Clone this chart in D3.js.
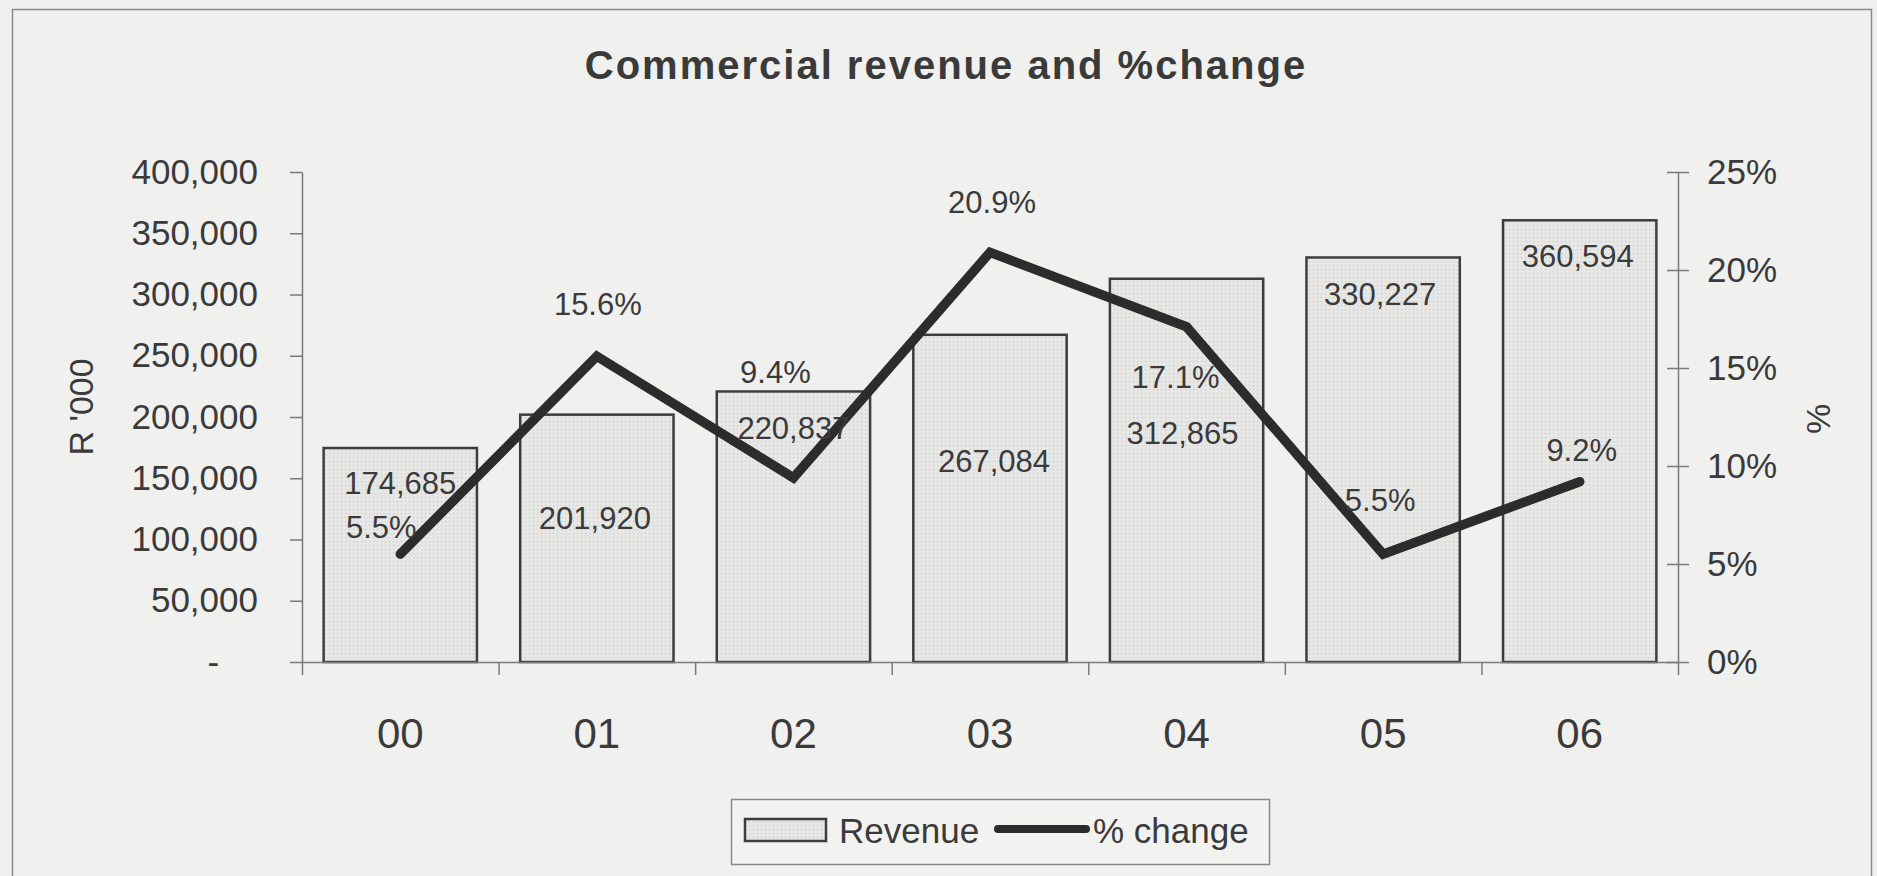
<!DOCTYPE html>
<html>
<head>
<meta charset="utf-8">
<script src="https://cdn.jsdelivr.net/npm/d3@7"></script>
<style>
  html, body { margin: 0; padding: 0; background: #f0f0ef; }
  svg { display: block; }
  text { font-family: "Liberation Sans", Arial, sans-serif; fill: #3a3a3a; }
</style>
</head>
<body>
<div id="chart"></div>
<script>
// --- data ---
const categories = ["00", "01", "02", "03", "04", "05", "06"];
const revenue = [174685, 201920, 220837, 267084, 312865, 330227, 360594];
const pctChange = [5.5, 15.6, 9.4, 20.9, 17.1, 5.5, 9.2];
const revenueTicks = [0, 50000, 100000, 150000, 200000, 250000, 300000, 350000, 400000];
const pctTicks = [0, 5, 10, 15, 20, 25];

// label placement (px, relative to bar top / line point)
const revLabelDy = [35, 103, 36, 126, 154, 36, 36];
const revLabelDx = [0, -2, 0, 4, -4, -3, -2];
const pctLabelDx = [-19, 1, -18, 2, -11, -3, 2];
const pctLabelDy = [-27, -52, -106, -51, 50, -54, -32];

const W = 1877, H = 876;
const plot = { left: 302, right: 1678, top: 172, bottom: 662 };

const svg = d3.select("#chart").append("svg")
    .attr("width", W)
    .attr("height", H);

// dotted fill for the bars
const defs = svg.append("defs");
const pat = defs.append("pattern")
    .attr("id", "dots")
    .attr("width", 4).attr("height", 4)
    .attr("patternUnits", "userSpaceOnUse");
pat.append("rect").attr("width", 4).attr("height", 4).attr("fill", "#e7e7e6");
pat.append("rect").attr("x", 1).attr("y", 1).attr("width", 1.2).attr("height", 1.2).attr("fill", "#c9c9c9");

// outer frame
svg.append("rect")
    .attr("x", 12.5).attr("y", 9.5)
    .attr("width", 1859).attr("height", 900)
    .attr("fill", "none")
    .attr("stroke", "#8a8a8a")
    .attr("stroke-width", 1.5);

// title
svg.append("text")
    .attr("x", 946).attr("y", 79)
    .attr("text-anchor", "middle")
    .style("font-size", "40px")
    .style("font-weight", "bold")
    .style("letter-spacing", "2px")
    .text("Commercial revenue and %change");

// --- scales ---
const x = d3.scaleBand()
    .domain(categories)
    .range([plot.left, plot.right])
    .padding(0);
const xEdge = d3.scaleLinear().domain([0, categories.length]).range([plot.left, plot.right]);
const y = d3.scaleLinear().domain([0, 400000]).range([plot.bottom, plot.top]);
const y2 = d3.scaleLinear().domain([0, 25]).range([plot.bottom, plot.top]);

const barW = x.bandwidth() * 0.78;

// --- bars ---
svg.append("g").selectAll("rect")
    .data(revenue)
    .join("rect")
    .attr("x", (d, i) => x(categories[i]) + (x.bandwidth() - barW) / 2)
    .attr("y", d => y(d))
    .attr("width", barW)
    .attr("height", d => y(0) - y(d))
    .attr("fill", "url(#dots)")
    .attr("stroke", "#3d3d3d")
    .attr("stroke-width", 2.5);

// --- axes ---
const axisColor = "#7a7a7a";
const styleAxis = g => {
    g.select(".domain").attr("stroke", axisColor).attr("stroke-width", 1.5);
    g.selectAll(".tick line").attr("stroke", axisColor).attr("stroke-width", 1.5);
    g.selectAll("text").style("font-family", "Liberation Sans, Arial, sans-serif").attr("fill", "#3a3a3a");
};

const fmtComma = d3.format(",");
svg.append("g")
    .attr("transform", `translate(${plot.left},0)`)
    .call(d3.axisLeft(y)
        .tickValues(revenueTicks)
        .tickSize(12)
        .tickSizeOuter(0)
        .tickPadding(32)
        .tickFormat(d => d === 0 ? "-\u00a0\u00a0\u00a0\u00a0" : fmtComma(d)))
    .call(styleAxis)
    .selectAll("text").style("font-size", "35px");

const rightAxis = svg.append("g")
    .attr("transform", `translate(${plot.right},0)`)
    .call(d3.axisRight(y2)
        .tickValues(pctTicks)
        .tickSize(11)
        .tickSizeOuter(0)
        .tickPadding(18)
        .tickFormat(d => d + "%"))
    .call(styleAxis);
rightAxis.selectAll("text").style("font-size", "35px").attr("text-anchor", "start");
rightAxis.selectAll(".tick line").attr("x1", -11);

// x axis: boundary tick marks
svg.append("g")
    .attr("transform", `translate(0,${plot.bottom})`)
    .call(d3.axisBottom(xEdge)
        .tickValues(d3.range(categories.length + 1))
        .tickSize(13)
        .tickSizeOuter(0)
        .tickFormat(""))
    .call(styleAxis);

// x axis: category labels
svg.append("g")
    .attr("transform", `translate(0,${plot.bottom})`)
    .call(d3.axisBottom(x).tickSize(0).tickPadding(56))
    .call(g => g.select(".domain").remove())
    .selectAll("text")
    .style("font-size", "42px")
    .attr("fill", "#3a3a3a");

// axis titles
svg.append("text")
    .attr("transform", "translate(93,407) rotate(-90)")
    .attr("text-anchor", "middle")
    .style("font-size", "34px")
    .text("R '000");

svg.append("text")
    .attr("transform", "translate(1830,419) rotate(-90)")
    .attr("text-anchor", "middle")
    .style("font-size", "34px")
    .text("%");

// --- % change line ---
const cx = i => x(categories[i]) + x.bandwidth() / 2;
const line = d3.line()
    .x((d, i) => cx(i))
    .y(d => y2(d));

svg.append("path")
    .datum(pctChange)
    .attr("d", line)
    .attr("fill", "none")
    .attr("stroke", "#2c2c2c")
    .attr("stroke-width", 9.5)
    .attr("stroke-linejoin", "miter")
    .attr("stroke-linecap", "round");

// --- data labels ---
svg.append("g").selectAll("text")
    .data(revenue)
    .join("text")
    .attr("x", (d, i) => cx(i) + revLabelDx[i])
    .attr("y", (d, i) => y(d) + revLabelDy[i])
    .attr("dy", "0.36em")
    .attr("text-anchor", "middle")
    .style("font-size", "31px")
    .text(d => fmtComma(d));

svg.append("g").selectAll("text")
    .data(pctChange)
    .join("text")
    .attr("x", (d, i) => cx(i) + pctLabelDx[i])
    .attr("y", (d, i) => y2(d) + pctLabelDy[i])
    .attr("dy", "0.36em")
    .attr("text-anchor", "middle")
    .style("font-size", "31px")
    .text(d => d.toFixed(1) + "%");

// --- legend ---
const legend = svg.append("g");
legend.append("rect")
    .attr("x", 731.5).attr("y", 799.5)
    .attr("width", 538).attr("height", 65)
    .attr("fill", "#f2f2f1")
    .attr("stroke", "#8a8a8a")
    .attr("stroke-width", 1.5);
legend.append("rect")
    .attr("x", 745).attr("y", 819)
    .attr("width", 81).attr("height", 22)
    .attr("fill", "url(#dots)")
    .attr("stroke", "#3d3d3d")
    .attr("stroke-width", 2.5);
legend.append("text")
    .attr("x", 839).attr("y", 830)
    .attr("dy", "0.36em")
    .style("font-size", "35px")
    .text("Revenue");
legend.append("line")
    .attr("x1", 998).attr("x2", 1086)
    .attr("y1", 829).attr("y2", 829)
    .attr("stroke", "#2c2c2c")
    .attr("stroke-width", 8)
    .attr("stroke-linecap", "round");
legend.append("text")
    .attr("x", 1093).attr("y", 830)
    .attr("dy", "0.36em")
    .style("font-size", "35px")
    .text("% change");
</script>
</body>
</html>
